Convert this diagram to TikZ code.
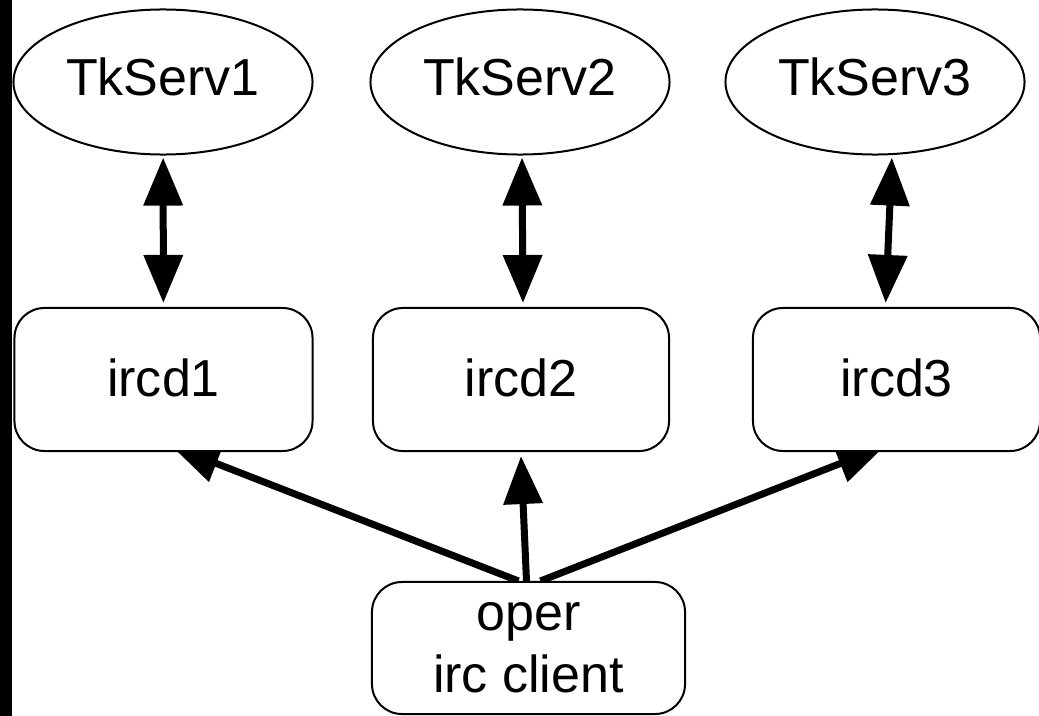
\documentclass[tikz,border=0pt]{standalone}
\usepackage{fontspec}
\setmainfont{Liberation Sans}
\usetikzlibrary{positioning,shapes,arrows.meta,backgrounds}

\begin{document}
\begin{tikzpicture}[x=0.025cm,y=-0.025cm]
	\tikzset{serv/.style={ellipse,draw,line width=0.05cm,inner sep=0pt,text depth=0.25cm,
		minimum width=7.475cm,minimum height=3.625cm,font=\fontsize{37pt}{44pt}\selectfont}}
	\tikzset{box/.style={rectangle,draw,fill=white,rounded corners=0.75cm,line width=0.05cm,
		inner sep=0pt,minimum width=7.45cm,minimum height=3.575cm,align=center,
		font=\fontsize{37pt}{44pt}\selectfont}}
	\tikzset{link/.style={line width=0.175cm},>={Triangle[length=1.2cm,width=0.95cm]}}
	\useasboundingbox (0,0) rectangle (1039,716);
	\fill (0,0) rectangle (12,716);

	\node[serv] (ts1) at (163,82) {TkServ1};
	\node[serv] (ts2) at (520,82) {TkServ2};
	\node[serv] (ts3) at (875,82) {TkServ3};
	\node[box,text depth=0.1cm] (ircd1) at (163.5,379.5) {ircd1};
	\node[box,text depth=0.1cm,minimum width=7.4cm] (ircd2) at (521,379.5) {ircd2};
	\node[box,text depth=0.1cm,minimum width=7.175cm] (ircd3) at (896.5,379.5) {ircd3};
	\node[box,minimum width=7.825cm,minimum height=3.3cm] (oper) at (528.5,648) {oper\\irc client};

	%% links, kept under the boxes
	\begin{scope}[on background layer]
	\path[link,<->,shorten <=0.05cm,shorten >=0.1cm]
		(ts1) edge (ircd1)
		([xshift=0.05cm]ts2.south) edge ([xshift=0.05cm]ircd2.north)
		([xshift=0.425cm]ts3.south) edge ([xshift=-0.275cm]ircd3.north);
	\path[link,->]
		([xshift=-0.25cm]oper.north) edge ([xshift=0.2cm,yshift=0.15cm]ircd1.south)
		([xshift=-0.05cm]oper.north) edge ([yshift=-0.1cm]ircd2.south)
		([xshift=0.3cm]oper.north) edge ([xshift=-0.29cm,yshift=0.15cm]ircd3.south);
	\end{scope}
\end{tikzpicture}
\end{document}
